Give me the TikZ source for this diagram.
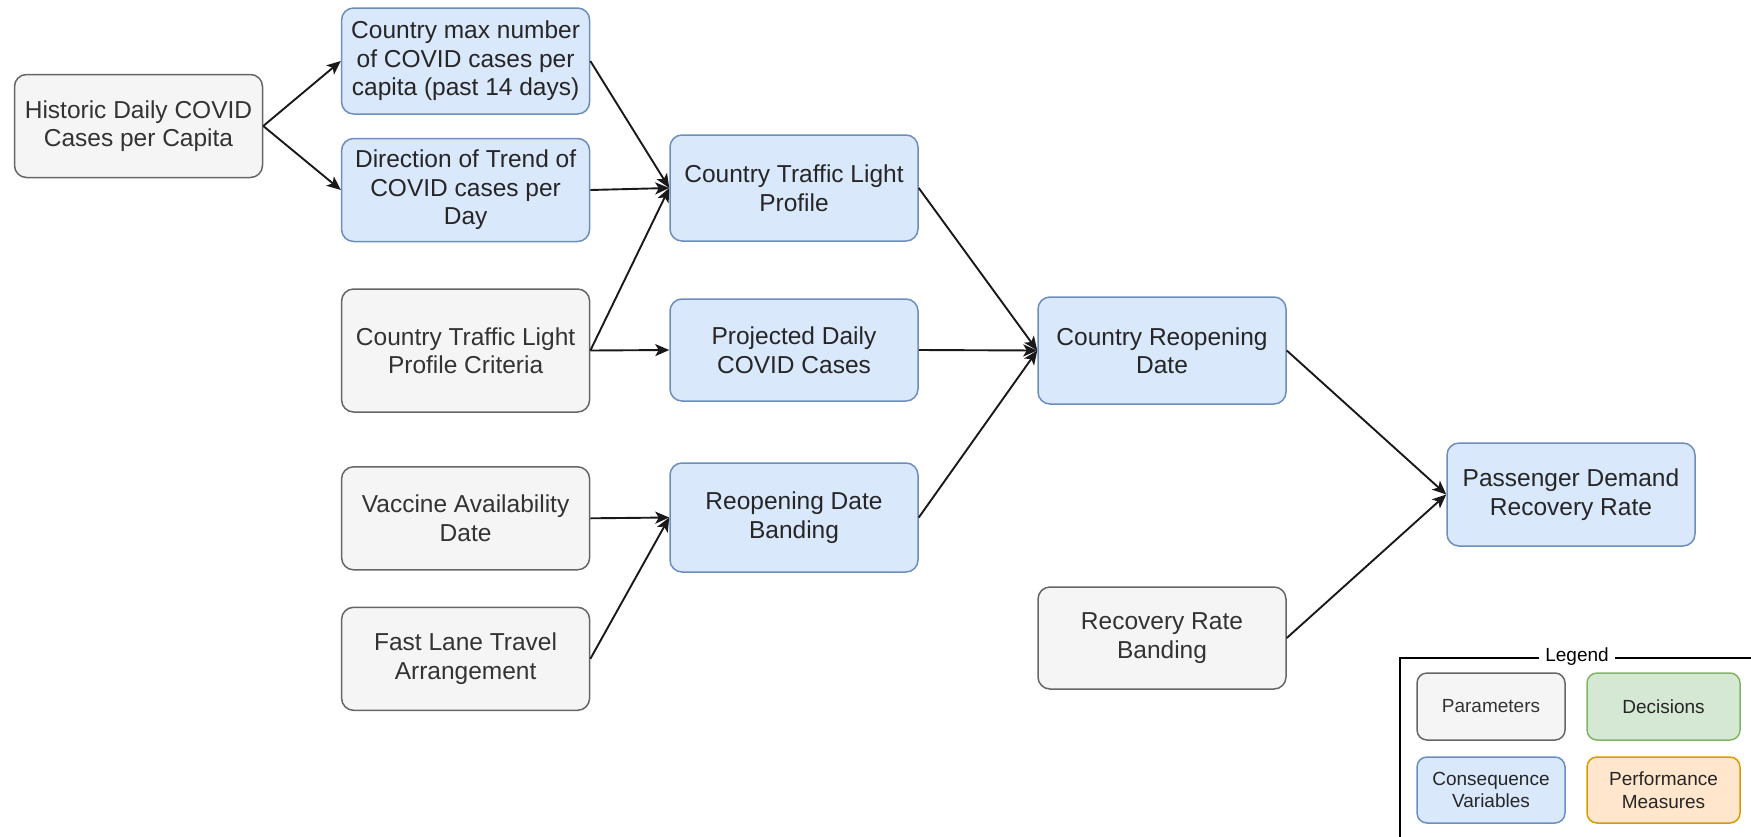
\documentclass[tikz,border=0pt]{standalone}
\usepackage{fontspec}
\setmainfont{Liberation Sans}
\usetikzlibrary{arrows.meta}

\definecolor{parfill}{HTML}{F5F5F5}
\definecolor{pardraw}{HTML}{666666}
\definecolor{partext}{HTML}{333333}
\definecolor{cvfill}{HTML}{DAE8FC}
\definecolor{cvdraw}{HTML}{6C8EBF}
\definecolor{cvtext}{HTML}{262626}
\definecolor{decfill}{HTML}{D5E8D4}
\definecolor{decdraw}{HTML}{82B366}
\definecolor{pmfill}{HTML}{FFE6CC}
\definecolor{pmdraw}{HTML}{D79B00}

\tikzset{
  box/.style={rectangle, rounded corners=12pt, line width=1.5pt, inner sep=0pt,
    minimum width=248pt, align=center,
    font=\fontsize{24.5}{28.5}\selectfont},
  parbox/.style={box, fill=parfill, draw=pardraw, text=partext},
  cvbox/.style={box, fill=cvfill, draw=cvdraw, text=cvtext},
  legbox/.style={rectangle, rounded corners=10pt, line width=1.5pt, inner sep=0pt,
    align=center, font=\fontsize{19}{22.5}\selectfont},
  link/.style={line width=1.9pt, draw=black!90,
    -{Stealth[length=14pt,width=12pt,inset=3.5pt]}},
}

\begin{document}
\begin{tikzpicture}[x=1pt,y=-1pt]
\useasboundingbox (0,0) rectangle (1751,836);

% input parameters
\node[parbox, minimum height=103pt] (hist) at (138.5,126) {Historic Daily COVID\\Cases per Capita};
\node[parbox, minimum height=123pt] (crit) at (465.6,350.5) {Country Traffic Light\\Profile Criteria};
\node[parbox, minimum height=103pt] (vacc) at (465.6,518.3) {Vaccine Availability\\Date};
\node[parbox, minimum height=103pt] (fast) at (465.6,658.8) {Fast Lane Travel\\Arrangement};
\node[parbox, minimum height=102pt] (rrb) at (1162,638) {Recovery Rate\\Banding};

% consequence variables
\node[cvbox, minimum height=106pt] (cmax) at (465.6,61) {Country max number\\of COVID cases per\\capita (past 14 days)};
\node[cvbox, minimum height=103pt] (dir) at (465.6,190) {Direction of Trend of\\COVID cases per\\Day};
\node[cvbox, minimum height=106pt] (ctlp) at (794,188) {Country Traffic Light\\Profile};
\node[cvbox, minimum height=102pt] (proj) at (794,350) {Projected Daily\\COVID Cases};
\node[cvbox, minimum height=109pt] (rdb) at (794,517.5) {Reopening Date\\Banding};
\node[cvbox, minimum height=107pt] (crd) at (1162,350.5) {Country Reopening\\Date};
\node[cvbox, minimum height=103pt] (pdr) at (1571,494.5) {Passenger Demand\\Recovery Rate};

% influences
\draw[link] (hist.east) -- (cmax.west);
\draw[link] (hist.east) -- (dir.west);
\draw[link] (cmax.east) -- (ctlp.west);
\draw[link] (dir.east) -- (ctlp.west);
\draw[link] (crit.east) -- (ctlp.west);
\draw[link] (crit.east) -- (proj.west);
\draw[link] (vacc.east) -- (rdb.west);
\draw[link] (fast.east) -- (rdb.west);
\draw[link] (ctlp.east) -- (crd.west);
\draw[link] (proj.east) -- (crd.west);
\draw[link] (rdb.east) -- (crd.west);
\draw[link] (crd.east) -- (pdr.west);
\draw[link] (rrb.east) -- (pdr.west);

% legend
\coordinate (lgtl) at (1400,658);
\coordinate (lgbl) at (1400,840);
\coordinate (lgtr) at (1755,658);
\draw[line width=2pt] (lgbl) -- (lgtl) -- (lgtr);
\node[fill=white, inner xsep=6pt, inner ysep=1pt, font=\fontsize{19}{22}\selectfont] (lgtitle) at (1577,657) {Legend};
\node[legbox, fill=parfill, draw=pardraw, text=partext, minimum width=148pt, minimum height=67pt] (lgpar) at (1491,706.5) {Parameters};
\node[legbox, fill=decfill, draw=decdraw, text=cvtext, minimum width=153pt, minimum height=67pt] (lgdec) at (1663.5,706.5) {Decisions};
\node[legbox, fill=cvfill, draw=cvdraw, text=cvtext, minimum width=148pt, minimum height=66pt] (lgcv) at (1491,790) {Consequence\\Variables};
\node[legbox, fill=pmfill, draw=pmdraw, text=cvtext, minimum width=153pt, minimum height=66pt] (lgpm) at (1663.5,790) {Performance\\Measures};
\end{tikzpicture}
\end{document}
